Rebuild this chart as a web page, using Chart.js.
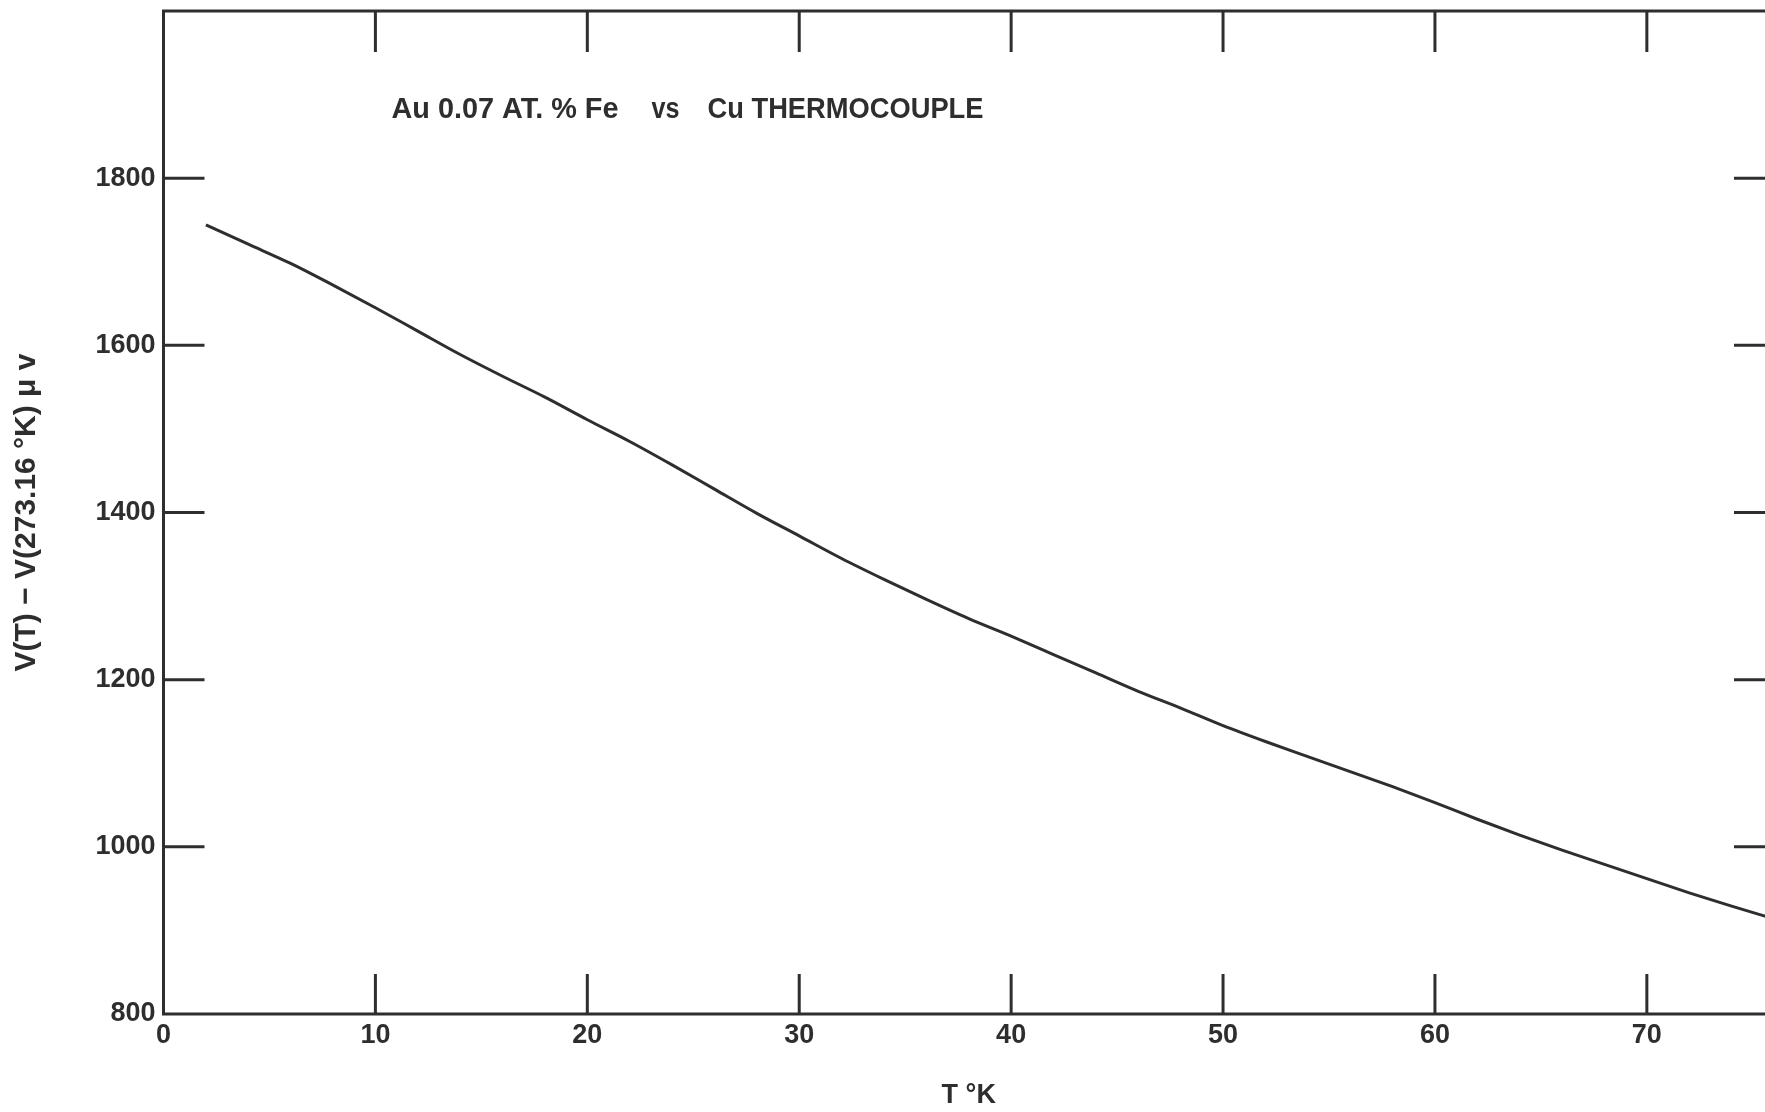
<!DOCTYPE html>
<html>
<head>
<meta charset="utf-8">
<script src="https://cdn.jsdelivr.net/npm/chart.js"></script>
<style>
  html, body { margin: 0; padding: 0; background: #fff; overflow: hidden; }
  canvas { display: block; }
</style>
</head>
<body>
<canvas id="chart" width="1780" height="1112" style="width:1780px;height:1112px"></canvas>
<script>
// T (deg K) and V(T) - V(273.16 K) in microvolts
const temps = [2, 4, 6, 8, 10, 12, 14, 16, 18, 20, 22, 24, 26, 28, 30, 32, 34, 36, 38,
               40, 42, 44, 46, 48, 50, 52, 54, 56, 58, 60, 62, 64, 66, 68, 70, 72, 74, 76];
const volts = [1744, 1721, 1698, 1672, 1645, 1617, 1589, 1563, 1538, 1511, 1485, 1457, 1428, 1399, 1372, 1345, 1320, 1296, 1273,
               1252, 1230, 1208, 1186, 1166, 1145, 1126, 1108, 1090, 1072, 1053, 1033, 1014, 996, 979, 962, 945, 929, 914];

const xTicks = [0, 10, 20, 30, 40, 50, 60, 70];
const yTicks = [800, 1000, 1200, 1400, 1600, 1800];

const titleParts = ["Au 0.07 AT. % Fe", "vs", "Cu THERMOCOUPLE"];
const xTitle = "T °K";
const yTitle = "V(T) − V(273.16 °K) μ v";

const ink = "#2e2e2e";
const face = "'Liberation Sans', Arial, sans-serif";

Chart.defaults.font.family = face;
Chart.defaults.font.weight = "bold";
Chart.defaults.color = ink;

// frame, inward tick marks and the caption inside the plot
const framePlugin = {
    id: "frame",
    afterDraw(chart) {
        const { ctx, chartArea: a, scales } = chart;
        const x = scales.x, y = scales.y;

        ctx.save();
        ctx.strokeStyle = ink;
        ctx.lineWidth = 3;
        ctx.lineCap = "butt";
        ctx.strokeRect(a.left, a.top, a.right - a.left, a.bottom - a.top);

        function seg(x1, y1, x2, y2) {
            ctx.beginPath();
            ctx.moveTo(x1, y1);
            ctx.lineTo(x2, y2);
            ctx.stroke();
        }

        xTicks.forEach(v => {
            if (v === x.min) return;
            const px = x.getPixelForValue(v);
            seg(px, a.top, px, a.top + 41);
            seg(px, a.bottom, px, a.bottom - 40);
        });
        yTicks.forEach(v => {
            if (v === y.min) return;
            const py = y.getPixelForValue(v);
            seg(a.left, py, a.left + 41, py);
            seg(a.right, py, a.right - 40, py);
        });

        ctx.fillStyle = ink;
        ctx.font = "bold 29px " + face;
        ctx.textBaseline = "alphabetic";
        ctx.textAlign = "left";
        ctx.fillText(titleParts[0], a.left + 228, a.top + 107, 227);
        ctx.fillText(titleParts[1], a.left + 488, a.top + 107, 28);
        ctx.fillText(titleParts[2], a.left + 544, a.top + 107, 276);
        ctx.restore();
    }
};

function noPad(s) {
    s.paddingTop = 0;
    s.paddingBottom = 0;
    s.paddingLeft = 0;
    s.paddingRight = 0;
}

new Chart(document.getElementById("chart"), {
    type: "line",
    data: {
        datasets: [{
            data: temps.map((t, i) => ({ x: t, y: volts[i] })),
            borderColor: ink,
            borderWidth: 3,
            pointRadius: 0,
            fill: false,
            cubicInterpolationMode: "monotone"
        }]
    },
    options: {
        responsive: false,
        animation: false,
        devicePixelRatio: 1,
        layout: { padding: { top: 11, right: 6, left: 0, bottom: 0 } },
        plugins: {
            legend: { display: false },
            tooltip: { enabled: false }
        },
        scales: {
            x: {
                type: "linear",
                min: 0,
                max: 76,
                afterBuildTicks: s => { s.ticks = xTicks.map(v => ({ value: v })); },
                afterFit: s => { s.height = 98; noPad(s); },
                grid: { display: false, drawTicks: false },
                border: { display: false },
                ticks: {
                    autoSkip: false,
                    maxRotation: 0,
                    padding: 5,
                    color: ink,
                    font: { size: 27 },
                    callback: v => String(v)
                },
                title: {
                    display: true,
                    text: xTitle,
                    color: ink,
                    font: { size: 27 },
                    padding: { top: 0, bottom: 0 }
                }
            },
            y: {
                type: "linear",
                min: 800,
                max: 2000,
                afterBuildTicks: s => { s.ticks = yTicks.map(v => ({ value: v })); },
                afterFit: s => { s.width = 163.5; noPad(s); },
                grid: { display: false, drawTicks: false },
                border: { display: false },
                ticks: {
                    autoSkip: false,
                    padding: 8,
                    color: ink,
                    font: { size: 27 },
                    callback: v => String(v)
                },
                title: {
                    display: true,
                    text: yTitle,
                    color: ink,
                    font: { size: 30 },
                    padding: { top: 9, bottom: 0 }
                }
            }
        }
    },
    plugins: [framePlugin]
});
</script>
</body>
</html>
